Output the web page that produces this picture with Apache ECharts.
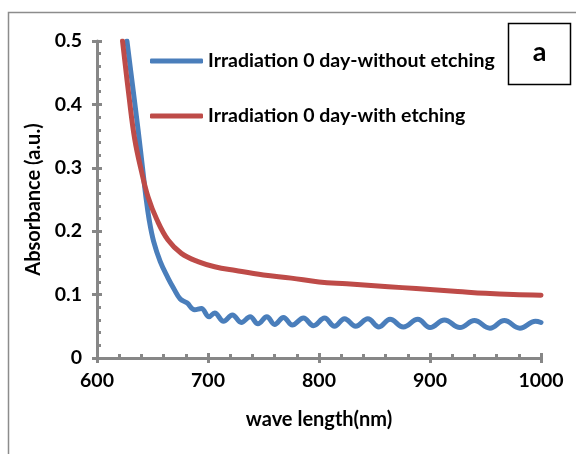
<!DOCTYPE html>
<html>
<head>
<meta charset="utf-8">
<script src="https://cdn.jsdelivr.net/npm/echarts@6/dist/echarts.min.js"></script>
<style>
  html, body { margin: 0; padding: 0; background: #fff; }
  #chart { width: 576px; height: 454px; }
</style>
</head>
<body>
<div id="chart"></div>
<script>
// series names
const seriesNames = ['Irradiation 0 day-without etching', 'Irradiation 0 day-with etching'];

// blue: without etching (peaks and troughs of the fringes)
const blueWave = [627, 632, 637, 641, 644, 647, 651, 657, 664, 669, 675, 681, 688, 694, 701,
  706, 714, 722, 730, 738, 745, 753, 760, 768, 776, 786, 795, 805, 814, 823, 833, 844, 854,
  864, 876, 889, 900, 913, 927, 940, 954, 967, 981, 995, 1000];
const blueAbs = [0.5, 0.43, 0.36, 0.3, 0.255, 0.218, 0.184, 0.152, 0.126, 0.11, 0.093, 0.087, 0.076, 0.078, 0.065,
  0.071, 0.058, 0.068, 0.056, 0.065, 0.054, 0.065, 0.053, 0.064, 0.052, 0.063, 0.051, 0.063, 0.05, 0.062, 0.05, 0.062, 0.049,
  0.061, 0.049, 0.061, 0.048, 0.06, 0.048, 0.059, 0.047, 0.059, 0.047, 0.058, 0.056];

// red: with etching
const redWave = [623, 629, 634, 640, 646, 654, 664, 676, 691, 706, 725, 750, 775, 800, 825, 850, 875, 900, 925, 950, 975, 1000];
const redAbs = [0.5, 0.41, 0.345, 0.295, 0.254, 0.218, 0.186, 0.165, 0.152, 0.144, 0.138, 0.131, 0.126, 0.12, 0.117, 0.114, 0.111, 0.108, 0.105, 0.102, 0.1, 0.099];

const xTicks = { min: 600, max: 1000, step: 100 };
const yTicks = { min: 0, max: 0.5, step: 0.1 };

const FONT = 'Lato';
const axisGrey = '#878787';
const colors = ['#4a7ebb', '#be4b48'];

const chart = echarts.init(document.getElementById('chart'), null, { renderer: 'canvas' });

const gridBox = { left: 97, right: 35, top: 41, bottom: 96 };

const pair = (xs, ys) => xs.map((x, i) => [x, ys[i]]);

const boldText = size => ({ fontFamily: FONT, fontWeight: 'bold', fontSize: size, color: '#000' });

chart.setOption({
  animation: false,
  backgroundColor: '#fff',
  textStyle: { fontFamily: FONT },
  grid: [
    Object.assign({}, gridBox),
    Object.assign({}, gridBox)
  ],
  legend: [
    {
      left: 150, top: 51, padding: 0,
      icon: 'roundRect', itemWidth: 53, itemHeight: 5, itemGap: 5,
      data: [seriesNames[0]],
      textStyle: boldText(19.5)
    },
    {
      left: 150, top: 106, padding: 0,
      icon: 'roundRect', itemWidth: 53, itemHeight: 5, itemGap: 5,
      data: [seriesNames[1]],
      textStyle: boldText(19.5)
    }
  ],
  xAxis: [
    {
      type: 'value', gridIndex: 0,
      min: xTicks.min, max: xTicks.max, interval: xTicks.step,
      name: 'wave length(nm)', nameLocation: 'middle', nameGap: 52,
      nameTextStyle: boldText(20),
      axisLine: { show: true, lineStyle: { color: axisGrey, width: 3 } },
      axisTick: { show: true, inside: true, length: 5, lineStyle: { color: axisGrey, width: 3 } },
      minorTick: { show: true, splitNumber: 5, length: 4, lineStyle: { color: axisGrey, width: 3 } },
      axisLabel: Object.assign({ margin: 13, formatter: v => String(v) }, boldText(19.5)),
      splitLine: { show: false }
    },
    {
      type: 'value', gridIndex: 1,
      min: xTicks.min, max: xTicks.max, interval: xTicks.step,
      axisLine: { show: false },
      axisTick: { show: true, inside: false, length: 5, lineStyle: { color: axisGrey, width: 3 } },
      axisLabel: { show: false },
      splitLine: { show: false }
    }
  ],
  yAxis: [
    {
      type: 'value', gridIndex: 0,
      min: yTicks.min, max: yTicks.max, interval: yTicks.step,
      name: 'Absorbance (a.u.)', nameLocation: 'middle', nameGap: 53,
      nameTextStyle: boldText(20),
      axisLine: { show: true, lineStyle: { color: axisGrey, width: 3 } },
      axisTick: { show: true, inside: true, length: 5, lineStyle: { color: axisGrey, width: 3 } },
      minorTick: { show: true, splitNumber: 5, length: 4, lineStyle: { color: axisGrey, width: 3 } },
      axisLabel: Object.assign({
        margin: 15,
        formatter: v => (v === 0 ? '0' : String(+v.toFixed(1)))
      }, boldText(19.5)),
      splitLine: { show: false }
    },
    {
      type: 'value', gridIndex: 1,
      min: yTicks.min, max: yTicks.max, interval: yTicks.step,
      axisLine: { show: false },
      axisTick: { show: true, inside: false, length: 5, lineStyle: { color: axisGrey, width: 3 } },
      axisLabel: { show: false },
      splitLine: { show: false }
    }
  ],
  series: [
    {
      name: seriesNames[0], type: 'line', xAxisIndex: 0, yAxisIndex: 0,
      data: pair(blueWave, blueAbs),
      showSymbol: false, symbol: 'none', smooth: 0.4,
      color: colors[0],
      lineStyle: { color: colors[0], width: 5, cap: 'round', join: 'round' },
      z: 3
    },
    {
      name: seriesNames[1], type: 'line', xAxisIndex: 0, yAxisIndex: 0,
      data: pair(redWave, redAbs),
      showSymbol: false, symbol: 'none', smooth: 0.4,
      color: colors[1],
      lineStyle: { color: colors[1], width: 5, cap: 'round', join: 'round' },
      z: 4
    }
  ],
  graphic: [
    {
      type: 'rect', z: -10, silent: true,
      shape: { x: 8.5, y: 12.5, width: 700, height: 700 },
      style: { fill: null, stroke: '#8c8c8c', lineWidth: 1.5 }
    },
    {
      type: 'rect', z: 10, silent: true,
      shape: { x: 508.5, y: 23.5, width: 62, height: 61 },
      style: { fill: '#fff', stroke: '#000', lineWidth: 1.5 }
    },
    {
      type: 'text', z: 11, silent: true,
      x: 539.5, y: 52,
      style: {
        text: 'a', fill: '#000', align: 'center', verticalAlign: 'middle',
        font: 'bold 27px Lato'
      }
    }
  ]
});
</script>
</body>
</html>
